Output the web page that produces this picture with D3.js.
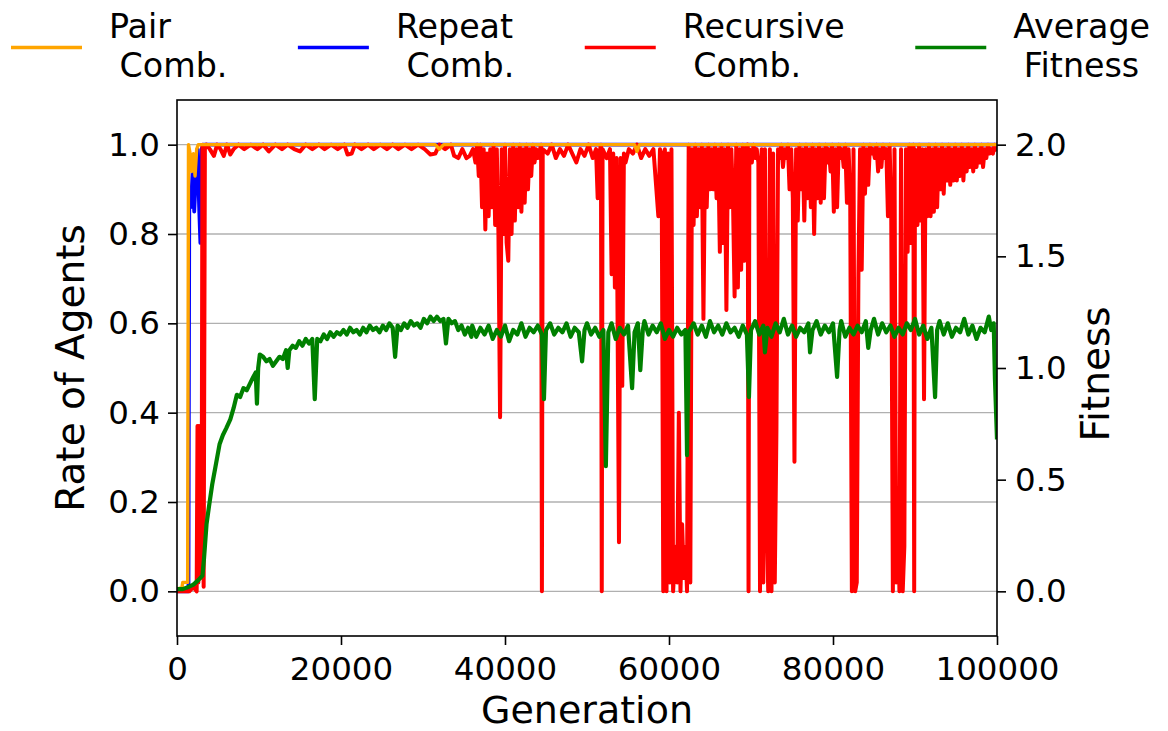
<!DOCTYPE html>
<html><head><meta charset="utf-8">
<script src="https://cdn.jsdelivr.net/npm/d3@7"></script>
<style>
body{margin:0;background:#fff}
svg{display:block}
text{font-family:"DejaVu Sans",sans-serif;fill:#000}
</style>
</head><body>
<svg id="c" width="1168" height="731"></svg>
<script>
// ---------------- data ----------------
const leftTicks=[0,0.2,0.4,0.6,0.8,1.0];
const rightTicks=[0,0.5,1.0,1.5,2.0];
const xTicks=[0,20000,40000,60000,80000,100000];
const legendLabels=[["Pair"," Comb."],["Repeat"," Comb."],["Recursive"," Comb."],["Average"," Fitness"]];
const legendColors=["#ffa500","#0000ff","#ff0000","#008000"];

const pairComb=[[0,0.005],[600,0.008],[700,0.02],[1300,0.02],[1400,1],[1600,0.98],[1800,0.94],[2000,0.98],[2200,0.93],[2400,0.99],[2600,1],[31500,1],[32000,0.99],[32500,1],[55800,1],[56100,0.985],[56400,1],[100000,1]];

const repeatComb=[[0,0],[1400,0],[1500,0.9],[1700,0.86],[1900,0.94],[2100,0.85],[2300,0.93],[2500,0.99],[2700,0.86],[2850,0.78],[3000,0.99],[3200,1],[100000,1]];

const recursiveComb=[
[0,0],[1500,0],[2000,0.01],[2400,0],[2500,0.37],[2600,0.02],[2700,0.37],[2800,0.03],[2900,0.36],[3000,0.05],[3100,1],[3250,0.01],[3400,0.99],[3600,1],
[4000,0.99],[4500,0.975],[4900,1],[5300,0.99],[5700,0.975],[6100,1],[6500,0.978],[6900,0.99],[7500,1],[8200,0.99],[9000,1],[9800,0.99],[10500,1],[11200,0.985],[12000,1],[12800,0.99],[13500,1],[14300,0.99],[15000,0.985],[15700,1],[16500,0.99],[17300,1],[18000,0.99],[18800,1],[19600,0.99],[20400,1],[20800,0.978],[21300,0.98],[21700,1],[22500,0.99],[23300,1],[24000,0.99],[24800,1],[25600,0.99],[26300,1],[27000,0.99],[27800,1],[28600,0.99],[29400,1],[30200,0.99],[30900,0.978],[31500,0.98],[32000,1],[32700,0.99],[33400,1],[33800,0.975],[34300,0.97],[34800,0.99],[35300,0.97],[35700,0.975],[36100,0.99],[36400,0.96],
[36600,1],[36800,0.93],[37000,1],[37200,0.86],[37400,0.99],[37600,0.81],[37800,0.98],[38000,0.84],[38200,0.99],[38400,0.86],[38600,1],[38800,0.82],[39000,0.99],[39200,0.8],[39400,0.39],[39600,0.99],[39800,0.8],[40000,1],[40200,0.78],[40400,0.74],[40600,0.99],[40800,0.8],[41000,1],[41200,0.83],[41400,0.99],[41600,0.86],[41800,1],[42000,0.85],[42200,0.99],[42400,0.87],[42600,1],[42800,0.9],[43000,0.99],[43200,0.93],[43400,1],[43600,0.96],[43800,0.99],[44000,0.97],[44400,1],[44500,0],[44600,0.99],
[45200,0.98],[45700,1],[46200,0.97],[46700,0.99],[47200,0.975],[47700,1],[48200,0.98],[48700,0.96],[49200,0.99],[49700,0.975],[50200,1],[50700,0.97],[51100,0.99],[51300,0.88],[51500,0.98],[51700,1],[51800,0],[51900,0.99],[52400,0.97],[52800,0.99],[53000,0.71],[53200,0.98],[53400,0.68],[53600,0.97],[53900,0.11],[54100,0.97],[54300,0.46],[54500,0.98],[54700,0.96],[55100,0.99],[55600,0.98],[56100,1],[56600,0.97],[57100,0.99],[57600,0.975],[58100,0.99],[58700,0.84],[58900,0.99],[59100,0.98],
[59300,0],[59500,0.99],[59700,0],[59900,0.98],[60100,0.02],[60300,0.99],[60500,0],[60800,0.1],[61000,0.02],[61200,0.4],[61400,0],[61600,0.15],[61800,0.03],[62000,0.1],[62200,0],[62400,1],[62600,0.02],[62800,0.99],
[63000,0.82],[63200,1],[63400,0.84],[63600,0.99],[63800,0.86],[64000,1],[64200,0.61],[64400,0.99],[64600,0.86],[64800,1],[65000,0.9],[65200,0.99],[65400,0.9],[65600,1],[65800,0.88],[66000,0.99],[66200,0.76],[66400,1],[66600,0.78],[66800,0.99],[67000,0.63],[67200,1],[67400,0.86],[67600,0.99],[67800,0.88],[68000,0.66],[68200,1],[68400,0.68],[68600,0.99],[68800,0.72],[69000,1],[69200,0.74],[69400,0.99],[69600,1],[69700,0],[69800,0.99],[70100,0.96],[70300,1],[70500,0.97],[70700,0.99],[70900,0.96],
[71100,0],[71300,0.99],[71500,0.02],[71700,0.99],[71900,0.18],[72100,0],[72300,0.99],[72500,0],[72700,0.98],[72900,0.02],[73100,0.36],[73300,0.99],
[73500,0.97],[73700,1],[73900,0.95],[74100,0.99],[74300,0.97],[74500,1],[74700,0.9],[74900,0.99],[75100,0.88],[75300,0.29],[75500,0.99],[75700,0.83],[75900,1],
[76100,0.9],[76300,0.99],[76500,0.83],[76700,1],[76900,0.88],[77100,0.99],[77300,0.86],[77500,1],[77700,0.8],[77900,0.99],[78100,0.88],[78300,1],[78500,0.87],[78700,0.99],[78900,0.88],[79100,1],[79300,0.96],[79500,0.99],[79700,0.94],[79900,1],[80100,0.85],[80300,0.99],[80500,0.86],[80700,1],[80900,0.97],[81100,0.99],[81300,0.95],[81500,1],[81700,0.87],[81900,0.99],[82100,0.88],[82300,0],[82500,0.99],[82700,0],[82900,0.02],[83100,0.71],[83300,0.99],[83500,0.72],[83700,1],[83900,0.89],[84100,0.99],[84300,0.91],[84500,1],[84700,0.98],[84900,0.99],[85100,0.97],[85300,1],[85500,0.94],[85700,0.99],[85900,0.95],[86100,1],[86300,0.97],[86500,0.99],[86700,0.84],[86900,1],[87100,0.85],[87300,0],[87500,0.99],[87700,0.02],[87900,0.23],[88100,0],[88300,0.99],[88500,0],[88700,0.1],[88900,0.99],[89100,0.76],[89300,1],[89500,0.78],[89700,0.99],[89800,1],[89900,0],[90000,0.99],[90300,0.82],[90500,1],[90700,0.83],[90900,0.99],[91100,0.43],[91300,0.99],[91500,0.84],[91700,1],[91900,0.84],[92100,0.99],[92300,0.85],[92500,1],[92700,0.86],[92900,0.99],[93100,0.9],[93300,1],[93500,0.89],[93700,0.99],[93900,0.92],[94100,1],[94300,0.91],[94500,0.99],[94700,0.92],[94900,1],[95100,0.92],[95300,0.99],[95500,0.93],[95700,1],[95900,0.92],[96100,0.99],[96300,0.94],[96500,1],[96700,0.95],[96900,0.99],[97100,0.94],[97300,1],[97500,0.95],[97700,0.99],[97900,0.96],[98100,1],[98300,0.95],[98500,0.99],[98700,0.97],[98900,1],[99100,0.98],[99300,0.99],[99500,0.98],[99700,1],[100000,0.985]
];

const avgFitness=[
[0,0.01],[700,0.01],[1400,0.02],[2000,0.03],[2600,0.05],[3100,0.07],[3300,0.15],[3600,0.3],[3900,0.38],[4300,0.48],[4700,0.56],[5200,0.66],[5600,0.7],[6000,0.73],[6500,0.77],[6900,0.82],[7300,0.88],[7700,0.87],[8100,0.91],[8500,0.9],[8900,0.93],[9300,0.96],[9600,0.98],[9750,0.84],[9900,1.0],[10100,1.06],[10500,1.05],[10900,1.03],[11300,1.04],[11700,1.01],[12100,1.03],[12500,1.05],[12900,1.04],[13300,1.08],[13500,1.0],[13700,1.08],[14100,1.1],[14500,1.09],[14900,1.12],[15300,1.1],[15700,1.13],[16100,1.11],[16500,1.13],[16800,0.86],[17100,1.13],[17500,1.12],[17900,1.15],[18300,1.13],[18700,1.16],[19100,1.14],[19500,1.16],[19900,1.15],[20300,1.17],[20700,1.15],[21100,1.18],[21500,1.16],[21900,1.17],[22300,1.15],[22700,1.18],[23100,1.16],[23500,1.19],[23900,1.17],[24300,1.18],[24700,1.16],[25100,1.19],[25500,1.17],[25900,1.2],[26300,1.18],[26600,1.05],[26900,1.19],[27300,1.17],[27700,1.2],[28100,1.18],[28500,1.21],[28900,1.19],[29300,1.2],[29700,1.18],[30100,1.22],[30500,1.2],[30900,1.23],[31300,1.21],[31700,1.23],[32100,1.21],[32500,1.22],[32800,1.11],[33100,1.22],[33500,1.2],[33900,1.21],[34300,1.17],[34700,1.19],[35100,1.15],[35500,1.18],[35900,1.14],
[36000,1.19],[36500,1.14],[37000,1.18],[37500,1.15],[38000,1.19],[38500,1.13],[39000,1.17],[39500,1.14],[40000,1.19],[40500,1.12],[41000,1.17],[41500,1.15],[42000,1.2],[42500,1.14],[43000,1.18],[43500,1.16],[44000,1.19],[44500,1.15],[44750,0.86],[45000,1.17],[45500,1.2],[46000,1.15],[46500,1.18],[47000,1.16],[47500,1.2],[48000,1.14],[48500,1.18],[49000,1.16],[49400,1.03],[49700,1.17],[50000,1.2],[50500,1.15],[51000,1.18],[51500,1.14],[52000,1.17],[52300,0.56],[52600,1.16],[53000,1.2],[53500,1.13],[54000,1.18],[54500,1.15],[55000,1.19],[55500,0.91],[55800,1.16],[56200,1.2],[56500,0.99],[56800,1.17],[57000,1.21],[57500,1.15],[58000,1.19],[58500,1.16],[59000,1.2],[59500,1.13],[60000,1.17],[60500,1.14],[61000,1.18],[61500,1.15],[62000,1.17],[62200,0.61],[62400,1.16],[63000,1.2],[63500,1.15],[64000,1.19],[64500,1.14],[65000,1.21],[65500,1.16],[66000,1.19],[66500,1.15],[67000,1.2],[67500,1.16],[68000,1.18],[68500,1.14],[69000,1.19],[69500,1.15],[69750,0.87],[70000,1.17],[70500,1.21],[71000,1.15],[71500,1.19],[71700,1.07],[72000,1.18],[72500,1.14],[73000,1.2],[73500,1.16],[74000,1.22],[74500,1.15],[75000,1.19],[75500,1.14],[76000,1.18],[76500,1.16],[77000,1.2],[77200,1.07],[77500,1.17],[78000,1.21],[78500,1.15],[79000,1.19],[79500,1.16],[80000,1.2],[80500,0.96],[80800,1.17],[81000,1.21],[81500,1.14],[82000,1.18],[82500,1.15],[83000,1.19],[83500,1.16],[84000,1.21],[84300,1.09],[84600,1.17],[85000,1.22],[85500,1.15],[86000,1.2],[86500,1.16],[87000,1.19],[87500,1.14],[88000,1.18],[88500,1.15],[89000,1.2],[89500,1.17],[90000,1.22],[90500,1.15],[91000,1.19],[91500,1.13],[92000,1.18],[92450,0.87],[92700,1.17],[93000,1.21],[93500,1.15],[94000,1.2],[94500,1.14],[95000,1.18],[95500,1.16],[96000,1.22],[96500,1.15],[97000,1.19],[97500,1.13],[98000,1.18],[98500,1.16],[99000,1.23],[99300,1.17],[99600,1.2],[99750,0.95],[100000,0.68]
];

// ---------------- drawing ----------------
const svg=d3.select("#c");
const L=177,R=997,T=100,B=636;
const x=d3.scaleLinear().domain([0,100000]).range([L,R]);
const yL=d3.scaleLinear().domain([-0.1,1.1]).range([B,T]);
const yR=d3.scaleLinear().domain([-0.2,2.2]).range([B,T]);

svg.append("defs").append("clipPath").attr("id","clip")
  .append("rect").attr("x",L).attr("y",T).attr("width",R-L).attr("height",B-T);

// grid
svg.append("g").selectAll("line").data(leftTicks).join("line")
  .attr("x1",L).attr("x2",R).attr("y1",d=>yL(d)).attr("y2",d=>yL(d))
  .attr("stroke","#b0b0b0").attr("stroke-width",1.4);

const plotG=svg.append("g").attr("clip-path","url(#clip)");
const lineL=d3.line().x(d=>x(d[0])).y(d=>yL(d[1]));
const lineR=d3.line().x(d=>x(d[0])).y(d=>yR(d[1]));

[[repeatComb,legendColors[1],3.8],[recursiveComb,legendColors[2],4.0],[pairComb,legendColors[0],3.4]].forEach(([data,c,w])=>{
  plotG.append("path").attr("d",lineL(data)).attr("fill","none").attr("stroke",c)
    .attr("stroke-width",w).attr("stroke-linejoin","round").attr("stroke-linecap","butt");
});
plotG.append("path").attr("d",lineR(avgFitness)).attr("fill","none").attr("stroke",legendColors[3])
  .attr("stroke-width",4.2).attr("stroke-linejoin","round");

// axes
function styleAxis(g){
  g.attr("font-family","DejaVu Sans").attr("font-size",32.5);
  g.select(".domain").remove();
  g.selectAll(".tick line").attr("stroke","#000").attr("stroke-width",1.6);
  g.selectAll(".tick text").attr("fill","#000");
}
const fmt=d3.format(".1f");
svg.append("g").attr("transform",`translate(${L},0)`)
  .call(d3.axisLeft(yL).tickValues(leftTicks).tickFormat(fmt).tickSize(9).tickPadding(8)).call(styleAxis);
svg.append("g").attr("transform",`translate(${R},0)`)
  .call(d3.axisRight(yR).tickValues(rightTicks).tickFormat(fmt).tickSize(9).tickPadding(9)).call(styleAxis);
svg.append("g").attr("transform",`translate(0,${B})`)
  .call(d3.axisBottom(x).tickValues(xTicks).tickFormat(d3.format("d")).tickSize(9).tickPadding(12)).call(styleAxis);

// frame
svg.append("rect").attr("x",L).attr("y",T).attr("width",R-L).attr("height",B-T)
  .attr("fill","none").attr("stroke","#000").attr("stroke-width",1.6);

// axis labels
svg.append("text").attr("x",(L+R)/2).attr("y",723).attr("text-anchor","middle")
  .attr("font-size",38).text("Generation");
svg.append("text").attr("transform",`translate(84,${(T+B)/2}) rotate(-90)`).attr("text-anchor","middle")
  .attr("font-size",39).text("Rate of Agents");
svg.append("text").attr("transform",`translate(1109,374) rotate(-90)`).attr("text-anchor","middle")
  .attr("font-size",39).text("Fitness");

// legend
let lx=11;
legendLabels.forEach((lab,i)=>{
  const g=svg.append("g");
  g.append("line").attr("x1",lx).attr("x2",lx+71).attr("y1",47.5).attr("y2",47.5)
    .attr("stroke",legendColors[i]).attr("stroke-width",3.6);
  const tx=lx+98;
  const t=g.append("text").attr("font-size",33.3).attr("xml:space","preserve").style("white-space","pre");
  let wmax=0;
  lab.forEach((s,j)=>{
    const ts=t.append("tspan").attr("x",tx).attr("y",38+j*39).text(s);
    wmax=Math.max(wmax,ts.node().getComputedTextLength());
  });
  lx=tx+wmax+70.5;
});
</script>
</body></html>
